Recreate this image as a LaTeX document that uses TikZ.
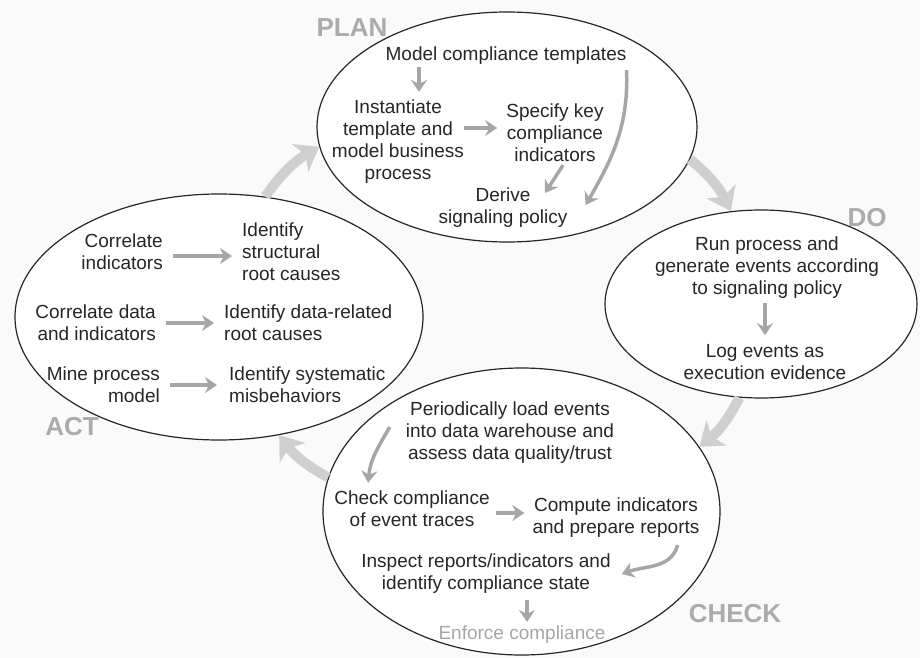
\documentclass[tikz,border=0pt]{standalone}
\usepackage{fontspec}
\setmainfont{Liberation Sans}
\usepackage{tikz}
\usetikzlibrary{shapes.geometric, arrows.meta, calc}

\begin{document}
\begin{tikzpicture}[x=1pt, y=1pt,
        phase/.style={draw=black!85, line width=1.2pt, ellipse, fill=white, inner sep=0pt},
        txt/.style={align=center, inner sep=0pt, text=black!85, font=\fontsize{19}{22}\selectfont},
        tag/.style={inner sep=0pt, text=black!33, font=\fontsize{26}{30}\selectfont\bfseries},
        flow/.style={draw=black!35, line width=3.5pt, -{Stealth[length=12pt, width=16pt, inset=4pt]}},
        turn/.style={draw=black!19, line width=10pt, -{Stealth[length=22pt, width=32pt, inset=6pt]}}]

        \fill[black!2] (0,0) rectangle (920,657);
        \useasboundingbox (0,0) rectangle (920,657);

        \node (plan) [phase, minimum width=380pt, minimum height=230pt] at (507,530) {};
        \node (act) [phase, minimum width=408pt, minimum height=246pt] at (219,340) {};
        \node (do) [phase, minimum width=312pt, minimum height=188pt] at (761,353) {};
        \node (check) [phase, minimum width=397pt, minimum height=287pt] at (521.5,145.5) {};

        \node (plantag) [tag] at (352,629) {PLAN};
        \node (dotag) [tag] at (867,439) {DO};
        \node (checktag) [tag] at (735,43) {CHECK};
        \node (acttag) [tag] at (72,230) {ACT};

        \draw[turn] (act.69) to[bend left=12] (plan.186);
        \draw[turn] (plan.350) to[bend left=12] (do.108);
        \draw[turn] (do.257) to[bend left=12] (check.20);
        \draw[turn] (check.170) to[bend left=12] (act.297);

        \node (tmpl) [txt] at (506,601) {Model compliance templates};
        \node (inst) [txt] at (398,515) {Instantiate\\template and\\model business\\process};
        \node (spec) [txt] at (555,524) {Specify key\\compliance\\indicators};
        \node (deriv) [txt] at (503,449) {Derive\\signaling policy};

        \draw[flow, shorten <=2pt, shorten >=8pt] ([xshift=21pt]inst.north |- tmpl.south) -- ([xshift=21pt]inst.north);
        \draw[flow, shorten >=9pt] ([yshift=5pt]inst.east |- spec.west) -- ([yshift=5pt]spec.west);
        \draw[flow] ($(spec.south)+(8,-3)$) -- ($(deriv.north)+(42,-5)$);
        \draw[flow] ($(tmpl.south east)+(0,-5)$) to[out=-88, in=60] ($(deriv.east)+(18,3)$);

        \node (run) [txt] at (767,389) {Run process and\\generate events according\\to signaling policy};
        \node (log) [txt] at (765,295) {Log events as\\execution evidence};

        \draw[flow, shorten <=4pt, shorten >=9pt] (run.south -| log.north) -- (log.north);

        \node (corr1) [txt, align=right, anchor=east] at (163,405) {Correlate\\indicators};
        \node (ident1) [txt, align=left, anchor=west] at (242,405) {Identify\\structural\\root causes};
        \node (corr2) [txt, align=right, anchor=east] at (156,334) {Correlate data\\and indicators};
        \node (ident2) [txt, align=left, anchor=west] at (224,334) {Identify data-related\\root causes};
        \node (mine) [txt, align=right, anchor=east] at (160,272) {Mine process\\model};
        \node (ident3) [txt, align=left, anchor=west] at (229,272) {Identify systematic\\misbehaviors};

        \draw[flow, shorten <=10pt, shorten >=10pt] ([yshift=-4pt]corr1.east) -- ([yshift=-4pt]corr1.east -| ident1.west);
        \draw[flow, shorten <=10pt, shorten >=10pt] (corr2.east) -- (corr2.east -| ident2.west);
        \draw[flow, shorten <=10pt, shorten >=12pt] (mine.east) -- (mine.east -| ident3.west);

        \node (load) [txt] at (510,224) {Periodically load events\\into data warehouse and\\assess data quality/trust};
        \node (chk) [txt] at (412,148) {Check compliance\\of event traces};
        \node (comp) [txt] at (616,139) {Compute indicators\\and prepare reports};
        \node (insp) [txt] at (486,83) {Inspect reports/indicators and\\identify compliance state};
        \node (enf) [txt, text=black!35] at (522,22) {Enforce compliance};

        \draw[flow] ($(load.west)+(-16,6)$) to[out=240, in=85] ($(chk.north west)+(34,8)$);
        \draw[flow, shorten <=6pt, shorten >=8pt] ([yshift=-4pt]chk.east) -- ([yshift=-4pt]chk.east -| comp.west);
        \draw[flow] ($(comp.south east)+(-22,-7)$) to[out=-105, in=20] ($(insp.east)+(11,0)$);
        \draw[flow, shorten <=6pt, shorten >=4pt] ([xshift=5pt]enf.north |- insp.south) -- ([xshift=5pt]enf.north);
    \end{tikzpicture}
\end{document}
